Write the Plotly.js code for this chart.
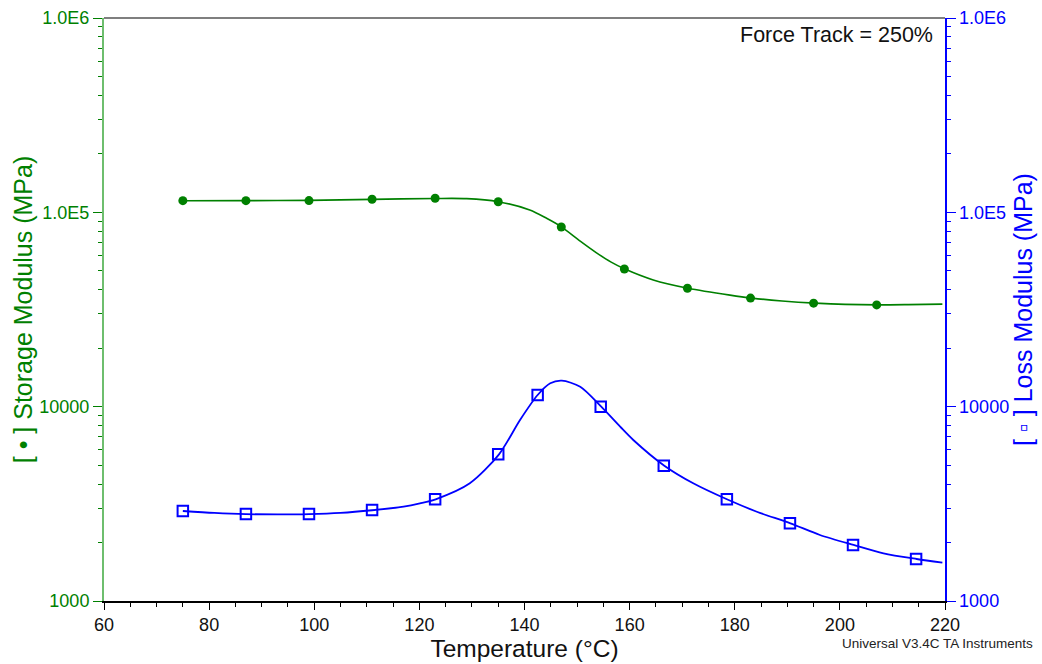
<!DOCTYPE html>
<html>
<head>
<meta charset="utf-8">
<script src="https://cdn.plot.ly/plotly-3.0.1.min.js"></script>
<style>html,body{margin:0;padding:0;background:#fff;}#chart{width:1042px;height:664px;}</style>
</head>
<body>
<div id="chart"></div>
<script>
// Storage modulus measured points (green dots)
const storageTemps = [75, 87, 99, 111, 123, 135, 147, 159, 171, 183, 195, 207];
const storageValues = [114800, 114800, 114900, 116700, 118100, 113400, 84000, 51100, 40700, 36200, 34100, 33400];
// Storage modulus smooth curve
const storageCurveTemps = [75, 87, 99, 111, 123, 129, 135, 141, 144.2, 147.1, 150.6, 153.7, 156.4, 159.1, 164.5, 171.1, 179.1, 183.3, 189, 195.3, 201, 207.3, 213, 219.5];
const storageCurveValues = [114800, 114900, 115200, 116600, 117800, 117600, 113400, 102800, 93200, 84000, 71100, 61900, 55600, 51100, 44900, 40700, 37500, 36200, 35000, 34100, 33600, 33400, 33500, 33700];
// Loss modulus measured points (blue squares)
const lossTemps = [75, 87, 99, 111, 123, 135, 142.5, 154.5, 166.5, 178.5, 190.5, 202.5, 214.5];
const lossValues = [2905, 2804, 2804, 2939, 3340, 5690, 11480, 10000, 4970, 3340, 2510, 1942, 1645];
// Loss modulus smooth curve
const lossCurveTemps = [75, 81, 87, 93, 99, 105, 111, 117, 120.1, 123.1, 129.6, 135.15, 139.15, 142.5, 144.9, 147.1, 150.6, 154.6, 158.2, 160.7, 166.6, 172.1, 178.5, 184.2, 190.6, 196.2, 202.6, 208.3, 214.6, 219.5];
const lossCurveValues = [2905, 2840, 2800, 2790, 2800, 2840, 2930, 3060, 3180, 3337, 4033, 5685, 8541, 11480, 13190, 13600, 12660, 9995, 7886, 6737, 4968, 4033, 3337, 2880, 2510, 2186, 1942, 1760, 1645, 1574];
// Axis tick labels
const yTickVals = [1000, 10000, 100000, 1000000];
const yTickText = ['1000', '10000', '1.0E5', '1.0E6'];

const GREEN = '#008000';
const BLUE = '#0000ff';
const FONT = 'Liberation Sans, Arial, sans-serif';

const minorVals = [];
for (let e = 3; e < 6; e++) { for (let m = 2; m <= 9; m++) minorVals.push(m * Math.pow(10, e)); }

const traces = [
  {x: storageCurveTemps, y: storageCurveValues, mode: 'lines', line: {color: GREEN, width: 1.6, shape: 'spline', smoothing: 0.8}, yaxis: 'y', hoverinfo: 'skip'},
  {x: storageTemps, y: storageValues, mode: 'markers', marker: {color: GREEN, size: 9, symbol: 'circle'}, yaxis: 'y'},
  {x: lossCurveTemps, y: lossCurveValues, mode: 'lines', line: {color: BLUE, width: 1.8, shape: 'spline', smoothing: 0.8}, yaxis: 'y2', hoverinfo: 'skip'},
  {x: lossTemps, y: lossValues, mode: 'markers', marker: {color: BLUE, size: 10.5, symbol: 'square-open', line: {color: BLUE, width: 2}}, yaxis: 'y2'}
];

const yCommon = {
  type: 'log', range: [3, 6], tickvals: yTickVals, ticktext: yTickText,
  ticks: 'outside', ticklen: 9, tickwidth: 1, showgrid: false, zeroline: false,
  showline: true, linewidth: 2,
  minor: {tickvals: minorVals, ticks: 'outside', ticklen: 4, showgrid: false},
  tickfont: {family: FONT, size: 18}
};

const layout = {
  width: 1042, height: 664,
  margin: {l: 104, r: 97, t: 18, b: 63},
  paper_bgcolor: '#fff', plot_bgcolor: '#fff',
  showlegend: false,
  font: {family: FONT},
  xaxis: {
    range: [60, 220], dtick: 20, tick0: 60, ticks: 'outside', ticklen: 7, tickwidth: 1, tickcolor: '#000',
    minor: {dtick: 5, ticks: 'outside', ticklen: 4, tickcolor: '#000', showgrid: false},
    showgrid: false, zeroline: false, showline: true, linecolor: '#000', linewidth: 1.5,
    tickfont: {family: FONT, size: 18, color: '#111'},
    title: {text: 'Temperature (°C)', font: {family: FONT, size: 24.5, color: '#111'}, standoff: 6}
  },
  yaxis: Object.assign({}, yCommon, {
    side: 'left', linecolor: 'rgb(110,190,110)', tickcolor: GREEN,
    minor: Object.assign({}, yCommon.minor, {tickcolor: GREEN}),
    tickfont: {family: FONT, size: 18, color: GREEN},
    title: {text: '[ • ] Storage Modulus (MPa)', font: {family: FONT, size: 25, color: GREEN}, standoff: 0}
  }),
  yaxis2: Object.assign({}, yCommon, {
    overlaying: 'y', side: 'right', linecolor: BLUE, linewidth: 1.5, tickcolor: BLUE,
    minor: Object.assign({}, yCommon.minor, {tickcolor: BLUE}),
    tickfont: {family: FONT, size: 18, color: BLUE},
    title: {text: '[ ▫ ] Loss Modulus (MPa)', font: {family: FONT, size: 25, color: BLUE}, standoff: 6}
  }),
  shapes: [
    {type: 'line', xref: 'paper', yref: 'paper', x0: 0, x1: 1, y0: 1, y1: 1, line: {color: '#555', width: 1.5}}
  ],
  annotations: [
    {text: 'Force Track = 250%', xref: 'paper', yref: 'paper', x: 0.988, y: 0.97, xanchor: 'right', yanchor: 'middle', showarrow: false, font: {family: FONT, size: 21.5, color: '#111'}},
    {text: 'Universal V3.4C TA Instruments', xref: 'paper', yref: 'paper', x: 1.107, y: -0.073, xanchor: 'right', yanchor: 'middle', showarrow: false, font: {family: FONT, size: 13.5, color: '#222'}}
  ]
};

Plotly.newPlot('chart', traces, layout, {displayModeBar: false, staticPlot: true});
</script>
</body>
</html>
